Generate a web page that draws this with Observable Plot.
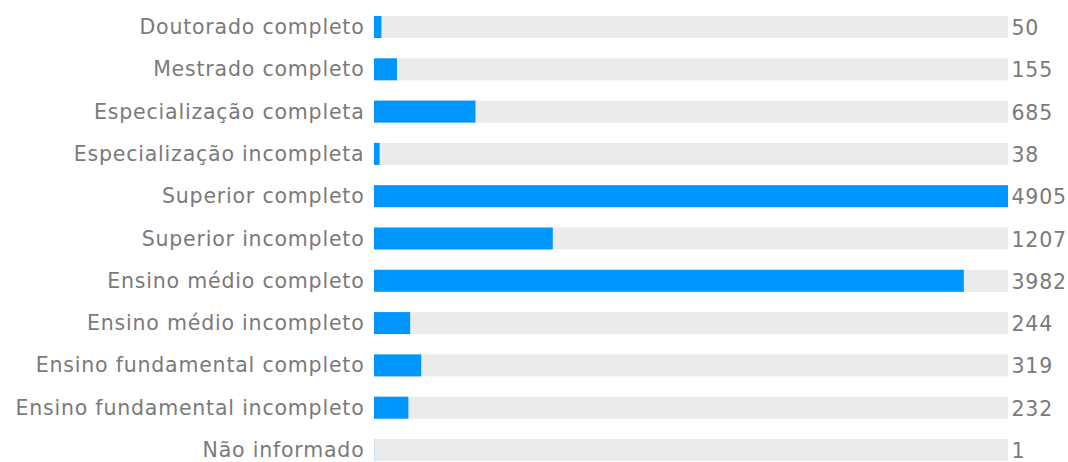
<!DOCTYPE html>
<html>
<head>
<meta charset="utf-8">
<script src="https://cdn.jsdelivr.net/npm/d3@7"></script>
<script src="https://cdn.jsdelivr.net/npm/@observablehq/plot@0.6"></script>
<style>
  html, body { margin: 0; padding: 0; background: #fff; }
  svg { display: block; }
  svg text { letter-spacing: 0.8px; }
</style>
</head>
<body>
<div id="chart"></div>
<script>
const categories = [
  "Doutorado completo",
  "Mestrado completo",
  "Especialização completa",
  "Especialização incompleta",
  "Superior completo",
  "Superior incompleto",
  "Ensino médio completo",
  "Ensino médio incompleto",
  "Ensino fundamental completo",
  "Ensino fundamental incompleto",
  "Não informado"
];
const values = [50, 155, 685, 38, 4905, 1207, 3982, 244, 319, 232, 1];

// The reference's track ends at this value; larger bars are clamped to the track.
const trackMax = 4280;

const data = categories.map((c, i) => ({category: c, value: values[i]}));

const font = "'DejaVu Sans', 'Open Sans', sans-serif";

const chart = Plot.plot({
  width: 1068,
  height: 462,
  marginLeft: 374,
  marginRight: 60,
  marginTop: 16,
  marginBottom: 1,
  style: {fontFamily: font, background: "#fff"},
  x: {domain: [0, trackMax], clamp: true, axis: null},
  y: {domain: categories, paddingInner: 0.48, paddingOuter: 0, round: false, label: null},
  marks: [
    Plot.barX(data, {y: "category", x: () => trackMax, fill: "#ebebeb"}),
    Plot.barX(data, {y: "category", x: "value", fill: "#0096ff"}),
    Plot.text(data, {y: "category", x: () => trackMax, text: d => String(d.value), textAnchor: "start", dx: 3, dy: 1, fontSize: 20.5, fill: "#7a7a7a"}),
    Plot.axisY({tickSize: 0, tickPadding: 10, fontSize: 20.5, fill: "#7a7a7a", label: null})
  ]
});
document.getElementById("chart").appendChild(chart);
</script>
</body>
</html>
